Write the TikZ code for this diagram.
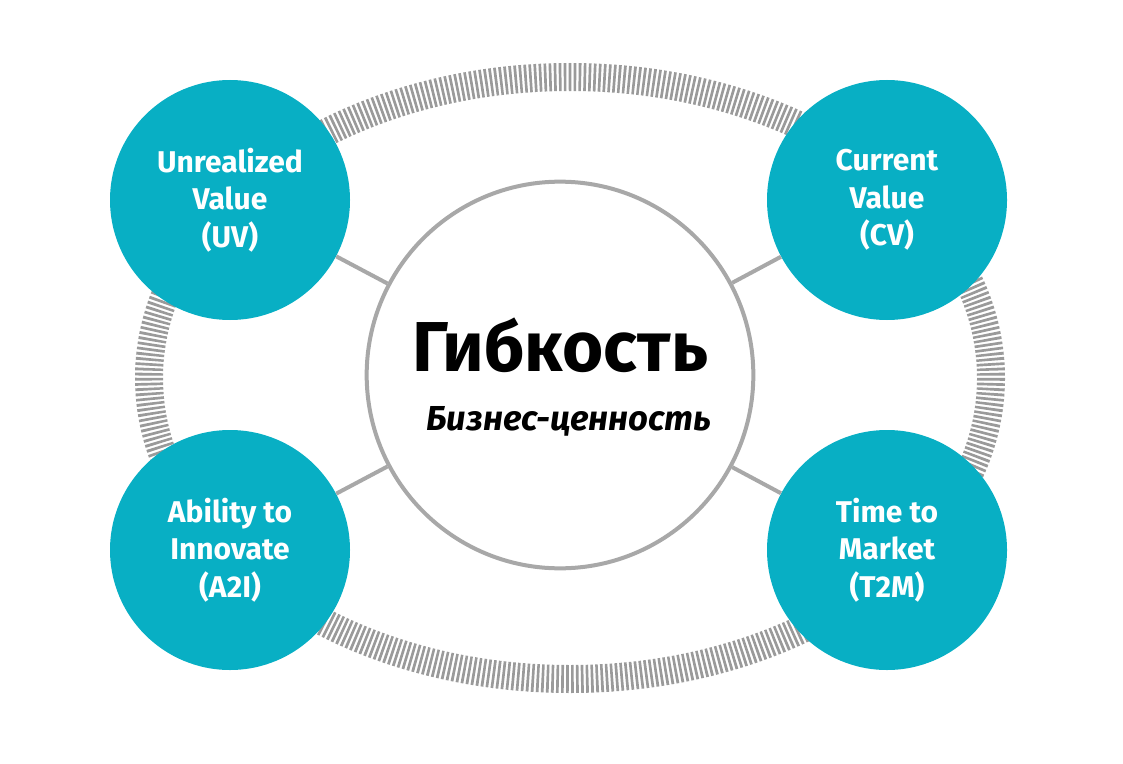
\documentclass[tikz,border=0pt]{standalone}
\usepackage{fontspec}
\setmainfont{Fira Sans}
\definecolor{teal1}{HTML}{08AFC4}
\definecolor{ring}{HTML}{9A9A9A}
\definecolor{cline}{HTML}{A8A8A8}
\begin{document}
\begin{tikzpicture}[x=0.75pt,y=-0.75pt,
  corner/.style={circle,fill=teal1,minimum size=180pt,inner sep=0pt,text=white,align=center,font=\bfseries\fontsize{22.5}{28}\selectfont},
  hub/.style={circle,draw=cline,line width=3pt,fill=white,minimum size=290pt,inner sep=0pt},
  link/.style={draw=cline,line width=3pt}]
\useasboundingbox (0,0) rectangle (1123,763);
\draw[ring,line width=21pt,dash pattern=on 2pt off 1.7pt] (570,378) ellipse [x radius=421, y radius=301];
\node[hub] (c) at (560,375) {};
\node[corner] (uv) at (230,200) {Unrealized\\Value\\(UV)};
\node[corner] (cv) at (887,200) {Current\\Value\\(CV)};
\node[corner] (a2i) at (230,550) {Ability to\\Innovate\\(A2I)};
\node[corner] (t2m) at (887,550) {Time to\\Market\\(T2M)};
\path[link] (c) -- (uv); \path[link] (c) -- (cv); \path[link] (c) -- (a2i); \path[link] (c) -- (t2m);
\node[font=\bfseries\fontsize{53}{60}\selectfont] (t) at (560,345) {Гибкость};
\node[font=\bfseries\itshape\fontsize{26}{30}\selectfont] (s) at (569,421) {Бизнес-ценность};
\end{tikzpicture}
\end{document}
